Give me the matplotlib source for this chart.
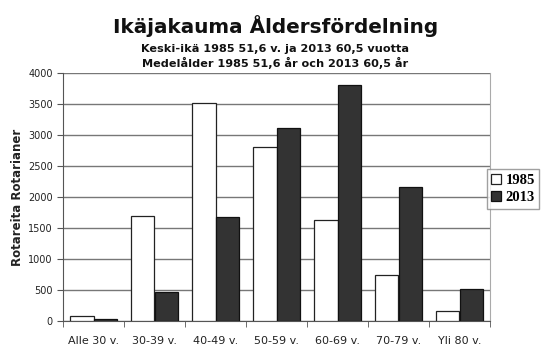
import numpy as np
import matplotlib.pyplot as plt

categories = ['Alle 30 v.', '30-39 v.', '40-49 v.', '50-59 v.', '60-69 v.', '70-79 v.', 'Yli 80 v.']
v1985 = [75, 1700, 3520, 2800, 1630, 740, 160]
v2013 = [25, 460, 1670, 3110, 3810, 2160, 510]

fig = plt.figure(figsize=(5.47, 3.55), dpi=100)
ax = fig.add_axes([63/547, 1 - 321/355, (490 - 63)/547, (321 - 73)/355])

x = np.arange(len(categories))
w = 0.39
ax.bar(x - w/2, v1985, w, color='white', edgecolor='#222222', linewidth=0.9, label='1985', zorder=3)
ax.bar(x + w/2, v2013, w, color='#333333', edgecolor='#111111', linewidth=0.9, label='2013', zorder=3)

ax.set_xlim(-0.5, len(categories) - 0.5)
ax.set_ylim(0, 4000)
ax.set_yticks(range(0, 4001, 500))
ax.yaxis.grid(True, color='#777777', linewidth=1.0, zorder=0)
ax.set_xticks(x)
ax.set_xticklabels(categories, fontsize=8, color='#222222')
ax.set_xticks(np.arange(-0.5, len(categories)), minor=True)
ax.tick_params(axis='x', which='major', length=0, pad=11)
ax.tick_params(axis='x', which='minor', length=4, color='#555555')
ax.tick_params(axis='y', labelsize=7, length=4, color='#555555', labelcolor='#222222')

ax.spines['top'].set_visible(False)
ax.spines['right'].set_color('#aaaaaa')
ax.spines['left'].set_color('#555555')
ax.spines['bottom'].set_color('#555555')

ax.set_ylabel('Rotareita Rotarianer', fontsize=8.5, fontweight='bold', color='#222222', labelpad=3)

fig.text(276/547, 1 - 33/355, 'Ikäjakauma Åldersfördelning', ha='center', va='baseline',
         fontsize=14.4, fontweight='bold', color='#111111')
fig.text(275/547, 1 - 52/355, 'Keski-ikä 1985 51,6 v. ja 2013 60,5 vuotta', ha='center', va='baseline',
         fontsize=8.1, fontweight='bold', color='#111111')
fig.text(275/547, 1 - 67/355, 'Medelålder 1985 51,6 år och 2013 60,5 år', ha='center', va='baseline',
         fontsize=8.1, fontweight='bold', color='#111111')

leg = fig.legend(loc='center', bbox_to_anchor=(513/547, 1 - 189/355),
                 frameon=True, fancybox=False, edgecolor='#888888',
                 handlelength=0.7, handleheight=0.7, handletextpad=0.3,
                 borderpad=0.3, labelspacing=0.3,
                 prop={'family': 'Liberation Serif', 'weight': 'bold', 'size': 10.5})

fig.savefig('out.png', dpi=100)
